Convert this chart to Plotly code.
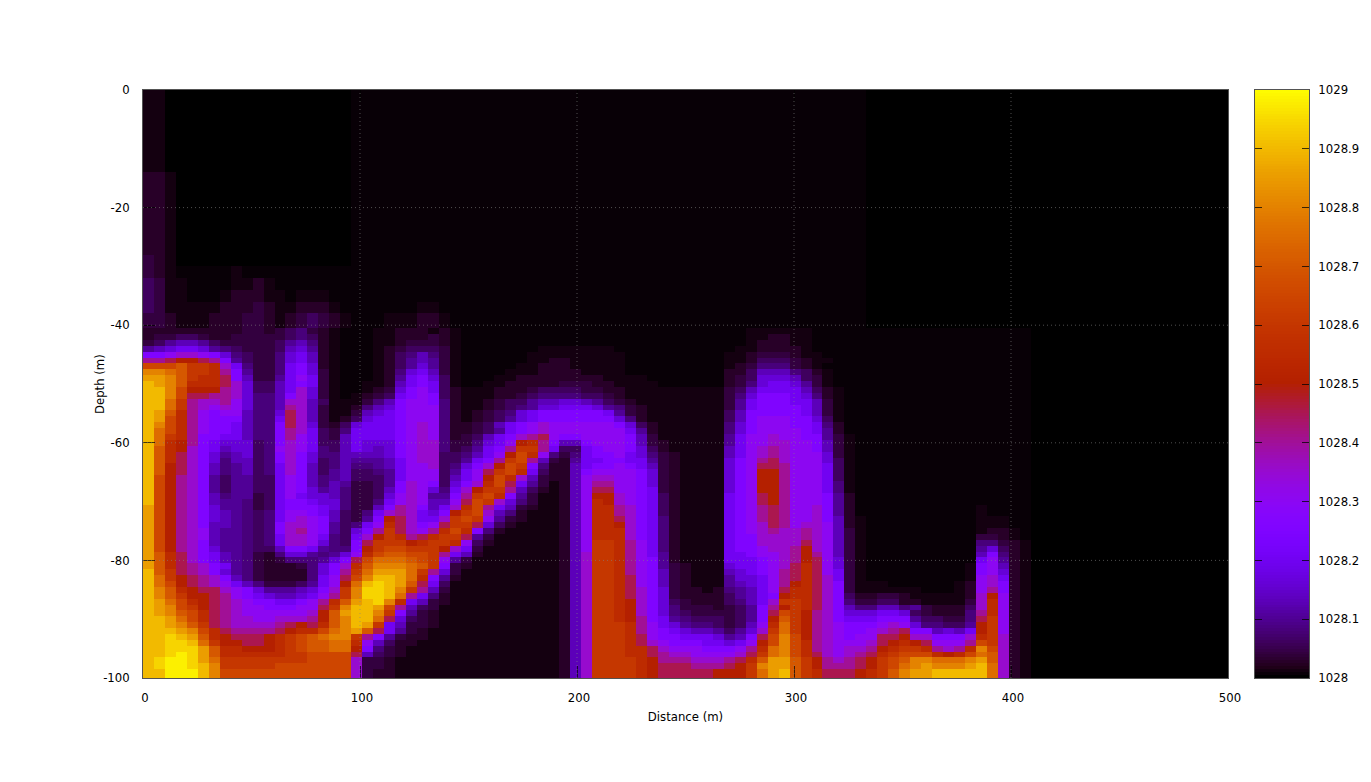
import plotly.graph_objects as go
import math

# One letter per cell: density above 1028, by lookup in this table
LEVEL_CODES = "abcdefghijklmnopqrstuvwxyYz"
LEVEL_VALUES = [0, .004, .010, .025, .04, .06, .08, .10, .13, .16, .20, .25, .30, .35, .40, .45,
                .50, .55, .60, .65, .70, .75, .80, .85, .90, .94, .98]

distance_max = 500
column_count = 99
depth_edges = list(range(0, -40, -2)) + [-40.5 - i for i in range(59)] + [-100]
x_tick_values = [0, 100, 200, 300, 400, 500]
y_tick_values = [0, -20, -40, -60, -80, -100]
y_tick_labels = ["0", "-20", "-40", "-60", "-80", "-100"]
colorbar_ticks = [1028, 1028.1, 1028.2, 1028.3, 1028.4, 1028.5, 1028.6, 1028.7, 1028.8, 1028.9, 1029]

# Rows from the surface down to the bottom; columns beyond the text are "a"
upper_rows = [
    "cc" + "a" * 17 + "b" * 47,
    "cc" + "a" * 17 + "b" * 47,
    "cc" + "a" * 17 + "b" * 47,
    "cc" + "a" * 17 + "b" * 47,
    "cc" + "a" * 17 + "b" * 47,
    "cc" + "a" * 17 + "b" * 47,
    "cc" + "a" * 17 + "b" * 47,
    "ddc" + "a" * 16 + "b" * 47,
    "ddc" + "a" * 16 + "b" * 47,
    "ddc" + "a" * 16 + "b" * 47,
    "ddc" + "a" * 16 + "b" * 47,
    "ddc" + "a" * 16 + "b" * 47,
    "ddc" + "a" * 16 + "b" * 47,
    "ddc" + "a" * 16 + "b" * 47,
    "edc" + "a" * 16 + "b" * 47,
    "edcbbbbbcbbbbbbbbbbbbbbbbbb" + "b" * 39,
    "feccbbbbccdcbbbbbbbbbbbbbbb" + "b" * 39,
    "feccbbbcdddccbcccbbbbbbbbbb" + "b" * 39,
    "fecccccdddedccdddcbbbbbbbcc" + "b" * 39,
    "eedcccdddeedcdefedcbbbcccdd" + "c" + "b" * 38,
]
TAIL = "bbbbbbbbbbbbbbbbb"
lower_rows = [
    "dddddddddeedefgedcbbbccdddc" "dcbbbbbbbbb" "bbbbbb" "bbbbbbbbb" "bbccccccbbb" + TAIL,
    "deeffeddeeeeefgfdcbbbccddde" "dcbbbbbbbbb" "bbbbbb" "bbbbbbbbb" "bbccddccbbb" + TAIL,
    "efhiihfeeeeefhigdcbbbccdeee" "dcbbbbbbbbb" "bbbbbb" "bbbbbbbbb" "bbcdddccbbb" + TAIL,
    "hijkkjhgfeeefijhdcbbbcdefff" "ecbbbbbbbcc" "cccccb" "bbbbbbbbb" "bccddddcbbb" + TAIL,
    "llmnnmljgfeegjkidcbbbcdfgig" "ecbbbbbbccc" "cccccc" "bbbbbbbbb" "ccdeeedccbb" + TAIL,
    "oopqqpolhfeegjkidcbbbcdfhih" "ecbbbbbbccd" "dccccc" "bbbbbbbbb" "ccdfffedccb" + TAIL,
    "tttussrnkgeegkljdcbbbcdfhjh" "ecbbbbbccdd" "dccccc" "bbbbbbbbb" "cdegggedcbb" + TAIL,
    "wwvussrolheegkljecbbbcdgjki" "ecbbbbcccdd" "ddcccc" "bbbbbbbbb" "ddfiiigfdcb" + TAIL,
    "xxwusrrplieehkmkecbbbcdhklj" "fcbbbccdddd" "ddddcc" "ccbbbbbbb" "defjjjifecb" + TAIL,
    "yxwurrrpnjffiklkecbbccdiklk" "fcbbccddddd" "eeeddc" "cccbbbbbb" "degjkkjhecb" + TAIL,
    "yywtqqqonjffiknjecbbcdejlmk" "fdcccdddeff" "ffeedd" "ccccccccc" "efikkkkifdc" + TAIL,
    "yywtppoonjggilnjecbcdefklml" "fdcccddefgg" "ggffed" "ccccccccc" "egjlllkjgdc" + TAIL,
    "yyvsonnomjgginnifcccegilmml" "gdccdeffhii" "jjihfe" "dcccccccc" "ehklllkkiec" + TAIL,
    "yyvsonmnmjggionieccdgijlmmm" "gdccdefghjj" "kkkjhg" "edccccccc" "ehkllllkiec" + TAIL,
    "yxuromlmmiggjpniecceijklmmm" "gdcdefgjkll" "llllkh" "edccccccc" "filllllkiec" + TAIL,
    "yxtromllliggkpniecdfjkklmmm" "gdcdefhjkll" "lllllj" "gdccccccc" "filmmmlljfc" + TAIL,
    "ywtromllkigglpnjedfjkkklmnm" "gddefiklmnm" "mmmmml" "jfdcccccc" "gjlmmmllkgd" + TAIL,
    "yvtromllkigglonkfegkkkklmnm" "gddefhklmnm" "mmmmmm" "khdcccccc" "gjlmmmmlkhd" + TAIL,
    "yvsrollkkigglomkfeikkkklmnm" "gdefiklnopm" "llmmmm" "liecccccc" "hkmmnmmllhec" "bbbbbbbbbbbbbbbb",
    "yvrqolkjjjfglnmkffikjjjlmnn" "geegjkmqrol" "iilmmm" "liedccccc" "hkmmnnmmliec" "bbbbbbbbbbbbbbbb",
    "yurqnlkijjfgmnmkgfikjijlmnn" "gefhklossok" "ffklmm" "ljfdccccc" "ikmnonmmliec" "bbbbbbbbbbbbbbbb",
    "yurpnljhijfglnljggiiiijlmnn" "ffgikmqtrmg" "egkllm" "kjgedcccc" "ikmnonmmmjec" "bbbbbbbbbbbbbbbb",
    "yurpnljgiifglnljfgihhhikmnn" "ffhklostoie" "dhkkll" "kkhedcccc" "jlmopnmmmjfc" "bbbbbbbbbbbbbbbb",
    "yuqpnlighifgknlifgigghikmmn" "fgjlnqtslgd" "dikllm" "lkiedcccc" "jlmppommmkfc" "bbbbbbbbbbbbbbbb",
    "yuqpnlighifgknlifhiffghkmmm" "fhkmpstrkfd" "dilmmm" "mljedcccc" "jlmqqommmkfc" "bbbbbbbbbbbbbbbb",
    "ytqonlhfhhffkmlighifffhkmmm" "fikmqtrnied" "dimnnm" "mljedcccc" "jlmqqommmkfc" "bbbbbbbbbbbbbbbb",
    "ytqonlhfhhffkmligiheefhlnml" "fjlnrtpkhec" "dimoom" "mljedcccc" "jlmqqommmkgc" "bbbbbbbbbbbbbbbb",
    "ytqonlhfhhffkmljhigeefilnmj" "gknqssoifdc" "dimppm" "mlkedcccc" "jlmqqommmkgc" "bbbbbbbbbbbbbbbb",
    "ytqonlighhefkmkjjigeefjmnmh" "hlostrlhecc" "dimqqn" "mlkfdcccc" "klmpqommmlhd" "bbbbbbbbbbbbbbbb",
    "ytqonlihhgefkllkjjgeegkmnmi" "imptsnjgecc" "dimrqn" "mlkfdcccc" "klmpqommmlhd" "bbbbbbbbbbbbbbbb",
    "xtqonljhhgefklllkjgeeilonli" "knrtokiedcc" "dimrro" "nlkfdcccc" "klmopommnlhd" "bbbbbbbbbbbcbbbb",
    "xtqonljihgfgkmmlkifegknonkj" "lqstnigdccc" "dimrro" "nlkfdcccc" "klmopommnlhd" "bbbbbbbbbbbcbbbb",
    "xtqonljihgfgkmnmlifehlqpnkk" "nstsmhedccc" "dimrrp" "nlkgdcccc" "klmopommnlid" "cbbbbbbbbbbcccbb",
    "xtqonliihgfglnnmlhfgkmrpnlm" "psspjfdcccc" "dimrrq" "nlkgdcccc" "klmnpomnnmid" "cbbbbbbbbbbcccbb",
    "xtqonmihhgfglnomlhfjlospnmo" "rtrlgdccccc" "dimrrr" "nlkgdcccc" "klmnonnonmie" "cbbbbbbbbbbcddcb",
    "xtqonmihhgfgknnmkgfknqsropr" "ssphecccccc" "dimrrr" "nlkgdcccc" "kllnnnnonmie" "cbbbbbbbbbbeedcb",
    "xtqonlihhgfgknnmjgflpsssqrs" "srmfdcccccc" "dimssr" "omkgdcccc" "kllnnnnpnmie" "cbbbbbbbbbbggedc",
    "xtqonljhhgffillkhgglqsttsss" "qnkeccccccc" "dimssr" "omkgdcccc" "kllmnnoqnmie" "cbbbbbbbbbbhjfdc",
    "xurpnlkihgedgjjhghjmrtuutts" "okidccccccc" "dinssr" "omkhdcccc" "kklmmnoqomie" "cbbbbbbbbbbilgdc",
    "xurpnlkihgedeggghjlptvvvuts" "mhecccccccc" "dinssr" "omlhdcccc" "kkklmnoqpmje" "cbbbbbbbbbbkmhdc",
    "xurponlkhgedddegjlnruwwwvus" "ledcccccccc" "dinssr" "omlhedccc" "jkklmnprpmje" "cbbbbbbbbbclmidc",
    "yusponljhgeddddgjlosvxxxvso" "jeccccccccc" "dinssr" "omliedccc" "ijklmoprpmke" "cbbbbbbbbbclmjdc",
    "yvsqponligeddddgkmptwyyxvrl" "hdccccccccc" "dinssr" "pmliedccc" "hjjkmoprpnke" "cbbbbbbbbbcmnkdc",
    "yvtqponmkigeeefhkmqvyYyxupk" "fcccccccccc" "dinssr" "pmliedccc" "hijkmoqrpnle" "cccbbbbbbcdmnldc",
    "ywurqppnmljhhhijlnswYYywsoi" "ecccccccccc" "dinssr" "pnljeddcd" "ghikmprrpnle" "ccccccbbbcdmoldc",
    "ywusqqpomlkjiijkmoswYYyvokg" "dcccccccccc" "dinssr" "pnljedddd" "fhiklqrrpnlf" "ddeedcccccdnqmdc",
    "yxvtrqponmllkklmoruxyYwrkie" "dcccccccccc" "dinssr" "qnljfeddd" "fgiknssrpnlg" "eeffddccccenrmdc",
    "yxwtsqponmmlllmmpswyyxtoife" "ccccccccccc" "dinssr" "qnljgeeed" "efhloqsrpnli" "ggiighedddfnrmdc",
    "yxwutrponmmmmmmnquxyywslhed" "ccccccccccc" "dinssr" "qnljgfeee" "efhlptsqonlj" "jjkkjfedddgormdc",
    "yyxvtrponnmmnnnoquwyyvpjfed" "ccccccccccc" "dinssr" "qolkhgfff" "efhlqusqonlk" "kklllhffeegpsmdc",
    "yyxwusponnnnopqpruwyxskieed" "ccccccccccc" "dinsss" "romkjhggf" "efimrvsqonml" "llmnmjggffhqsmdc",
    "yyyxwtrpoooopqrrtvwxupkhedc" "ccccccccccc" "dinsss" "romlkjiih" "fhjnsvsqonml" "lmnopllijikqsmdc",
    "yyYyxurqpppqrstuvwwsolheddc" "ccccccccccc" "dinsss" "rpmllkkkj" "hilptwtqonml" "mmppqnnlllnrsndc",
    "yyYYyvsqqppqrstuuvvrmifddcc" "ccccccccccc" "dinsss" "rpnmlllkk" "jkmqtwtronmm" "mnpqrqpmmmotsndc",
    "yyYYYxurrqqqrstuuvvqlgedccc" "ccccccccccc" "dinsss" "rrpnmmmll" "lmorvwtronmn" "noqrssronorwtndc",
    "yyYzYxurrrrrrssttttpifedccc" "ccccccccccc" "dinsss" "rrponnmmm" "mnpsvwtrpnmn" "oprstttrqrtvundc",
    "yYzzYxvssssssssttttneedcccc" "ccccccccccc" "dinsss" "srqooonnn" "opruxxusqono" "pqstuwwvvvwxundc",
    "yYzzYywssssstttttttneedcccc" "ccccccccccc" "dinsss" "srqpppooo" "pqswxxusqooo" "pqstvwxwwwxyvndc",
    "yyzzzywttttttttttttneddcccc" "ccccccccccc" "dinsss" "srqpppppq" "qqsvxyusrppp" "qrsuwxxyyyyyvndc",
]
density_rows = upper_rows + lower_rows

level_lookup = dict(zip(LEVEL_CODES, LEVEL_VALUES))
x_edges = [i * distance_max / column_count for i in range(column_count + 1)]
density = [[1028 + level_lookup[ch] for ch in row.ljust(column_count, "a")[:column_count]] for row in density_rows]

# gnuplot's default pm3d palette: rgbformulae 7,5,15
palette = []
for i in range(65):
    t = i / 64
    r = math.sqrt(t)
    g = t ** 3
    b = max(math.sin(2 * math.pi * t), 0)
    palette.append([t, f"rgb({round(r*255)},{round(g*255)},{round(b*255)})"])

# Colour key: a one-column heatmap on its own axes, so ticks can sit on both sides
key_levels = [1028 + i / 200 for i in range(201)]
key_edges = [1028 + i / 200 for i in range(202)]

font = dict(family="DejaVu Sans", size=11.7, color="black")
plot_width = 1180

fig = go.Figure()
fig.add_trace(go.Heatmap(x=x_edges, y=depth_edges, z=density, zmin=1028, zmax=1029,
                         colorscale=palette, showscale=False, xaxis="x", yaxis="y"))
fig.add_trace(go.Heatmap(x=[0, 1], y=[min(e, 1029) for e in key_edges], z=[[v] for v in key_levels],
                         zmin=1028, zmax=1029, colorscale=palette, showscale=False,
                         xaxis="x2", yaxis="y2", hoverinfo="y"))

shapes = []
grid = dict(color="rgba(130,130,130,0.6)", width=1, dash="1px,3px")
for v in x_tick_values[1:-1]:
    shapes.append(dict(type="line", xref="x", yref="y", x0=v, x1=v, y0=-100, y1=0, layer="above", line=grid))
for v in y_tick_values[1:-1]:
    shapes.append(dict(type="line", xref="x", yref="y", x0=0, x1=500, y0=v, y1=v, layer="above", line=grid))

axis_line = "rgba(40,40,40,0.8)"
fig.update_layout(
    width=1355, height=766, autosize=False,
    margin=dict(l=135.4, r=39.6, t=82.4, b=95.6, pad=0, autoexpand=False),
    paper_bgcolor="white", plot_bgcolor="black",
    font=font, shapes=shapes, showlegend=False,
    annotations=[dict(text="Depth (m)", xref="paper", yref="paper", x=0, y=0.5, xshift=-43,
                      xanchor="center", yanchor="middle", textangle=-90, showarrow=False, font=font)],
    xaxis=dict(domain=[0, 1085 / plot_width], anchor="y", range=[0, 500], tickvals=x_tick_values,
               ticks="inside", ticklen=12, tickwidth=1, tickcolor="rgba(0,0,0,0.7)",
               showgrid=False, zeroline=False, showline=True, linecolor=axis_line, linewidth=1,
               mirror="allticks", tickfont=font, ticklabelstandoff=9, ticklabelshift=2,
               title=dict(text="Distance (m)", font=font, standoff=8)),
    yaxis=dict(domain=[0, 1], anchor="x", range=[-100, 0], tickvals=y_tick_values, ticktext=y_tick_labels,
               ticks="inside", ticklen=12, tickwidth=1, tickcolor="rgba(0,0,0,0.7)",
               showgrid=False, zeroline=False, showline=True, linecolor=axis_line, linewidth=1,
               mirror="allticks", tickfont=font, ticklabelstandoff=10),
    xaxis2=dict(domain=[(1255 - 143) / plot_width, (1309 - 143) / plot_width], anchor="y2", range=[0, 1],
                showticklabels=False, ticks="", showgrid=False, zeroline=False, showline=True,
                linecolor=axis_line, linewidth=1, mirror=True),
    yaxis2=dict(domain=[0, 1], anchor="x2", side="right", range=[1028, 1029], tickvals=colorbar_ticks,
                tickformat=".5~r", ticks="inside", ticklen=7, tickwidth=1, tickcolor="rgba(0,0,0,0.75)",
                showgrid=False, zeroline=False, showline=True, linecolor=axis_line, linewidth=1,
                mirror="allticks", tickfont=font, ticklabelstandoff=6),
)
fig.write_html("out.html")
